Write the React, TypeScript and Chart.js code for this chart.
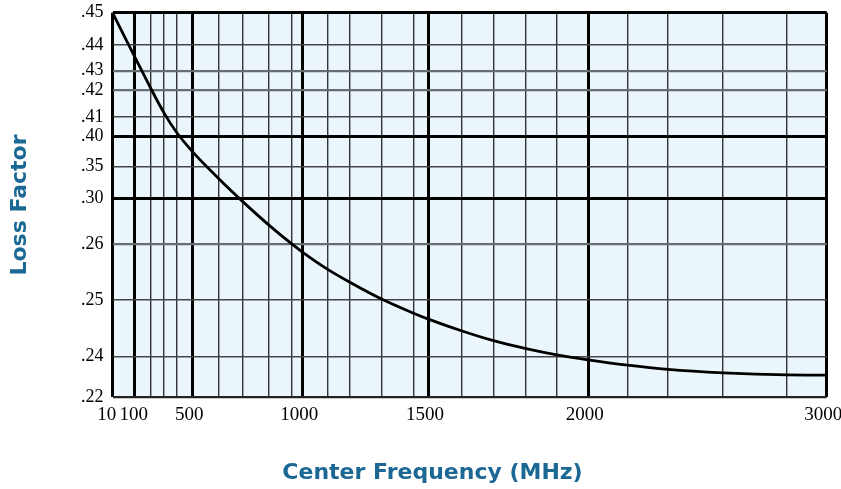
import React, { useEffect, useRef } from 'react';
import { Chart, registerables, LinearScale } from 'chart.js';

Chart.register(...registerables);

// ---- Curve data ----
const frequencyMHz = [10, 100, 200, 300, 400, 500, 600, 700, 800, 900, 1000, 1100, 1200, 1300, 1400, 1500, 1600, 1700, 1800, 1900, 2000, 2200, 2400, 2600, 2800, 3000];
const lossFactor = [0.45, 0.4352, 0.4209, 0.4116, 0.4021, 0.3745, 0.3304, 0.297, 0.2769, 0.26, 0.2585, 0.2555, 0.2532, 0.2501, 0.2476, 0.2466, 0.2445, 0.2428, 0.2414, 0.2403, 0.2384, 0.2358, 0.2337, 0.232, 0.231, 0.2309];

// ---- Axis definitions (the original axes are hand-spaced, non-linear) ----
const yTickValues = [0.22, 0.24, 0.25, 0.26, 0.30, 0.35, 0.40, 0.41, 0.42, 0.43, 0.44, 0.45];
const yTickFractions = [0, 0.106, 0.2534, 0.3989, 0.5177, 0.5998, 0.6778, 0.7282, 0.7991, 0.8493, 0.9161, 1];
const xTickValues = [10, 100, 200, 300, 400, 500, 600, 700, 800, 900, 1000, 1100, 1200, 1300, 1400, 1500, 1600, 1700, 1800, 1900, 2000, 2200, 2400, 2600, 2800, 3000];
const xTickFractions = [0, 0.0315, 0.0535, 0.0721, 0.0899, 0.1123, 0.1492, 0.1824, 0.2182, 0.251, 0.2664, 0.3008, 0.3317, 0.3775, 0.4223, 0.4423, 0.4895, 0.5333, 0.5791, 0.6221, 0.666, 0.721, 0.7776, 0.8546, 0.9443, 1];
const xTickLabels: Record<number, string> = { 10: '10 ', 100: ' 100', 500: '500', 1000: '1000', 1500: '1500', 2000: '2000', 3000: '3000' };
const xMajorLines = [10, 100, 500, 1000, 1500, 2000, 3000];
const yMajorLines = [0.45, 0.40, 0.30];
const yGrayLines = [0.43, 0.42, 0.26];

const X_TITLE = 'Center Frequency (MHz)';
const Y_TITLE = 'Loss Factor';
const TITLE_COLOR = '#1b6895';

function interp(v: number, from: number[], to: number[]): number {
  const n = from.length;
  let i = 0;
  if (v <= from[0]) i = 0;
  else if (v >= from[n - 1]) i = n - 2;
  else {
    while (i < n - 2 && v > from[i + 1]) i++;
  }
  const t = (v - from[i]) / (from[i + 1] - from[i]);
  return to[i] + t * (to[i + 1] - to[i]);
}

function makeBreakScale(scaleId: string, values: number[], fractions: number[]) {
  class BreakScale extends (LinearScale as any) {
    static id = scaleId;
    static defaults = {};
    determineDataLimits() {
      this.min = values[0];
      this.max = values[values.length - 1];
    }
    buildTicks() {
      return values.map((value) => ({ value }));
    }
    getPixelForValue(value: number) {
      if (value === null || value === undefined || isNaN(value)) return NaN;
      return this.getPixelForDecimal(interp(value, values, fractions));
    }
    getValueForPixel(pixel: number) {
      return interp(this.getDecimalForPixel(pixel), fractions, values);
    }
  }
  return BreakScale;
}

const XBreakScale = makeBreakScale('xbreak', xTickValues, xTickFractions);
const YBreakScale = makeBreakScale('ybreak', yTickValues, yTickFractions);
Chart.register(XBreakScale as any, YBreakScale as any);

const near = (v: number, list: number[]) => list.some((w) => Math.abs(w - v) < 1e-6);

const plotBackground = {
  id: 'plotBackground',
  beforeDraw(chart: any) {
    const { ctx, chartArea: a } = chart;
    ctx.save();
    ctx.fillStyle = '#eaf6fc';
    ctx.fillRect(a.left, a.top, a.right - a.left, a.bottom - a.top);
    ctx.restore();
  },
};

export default function App() {
  const ref = useRef<HTMLCanvasElement>(null);
  useEffect(() => {
    const chart = new Chart(ref.current as HTMLCanvasElement, {
      type: 'line',
      data: {
        datasets: [
          {
            data: frequencyMHz.map((x, i) => ({ x, y: lossFactor[i] })),
            borderColor: '#000000',
            borderWidth: 2.8,
            pointRadius: 0,
            fill: false,
            cubicInterpolationMode: 'monotone',
          },
        ],
      },
      options: {
        responsive: false,
        animation: false,
        events: [],
        layout: { padding: { left: 38.3, right: 14.3, top: 12.7, bottom: 0 } },
        plugins: {
          legend: { display: false },
          tooltip: { enabled: false },
          title: {
            display: true,
            text: X_TITLE,
            position: 'bottom',
            color: TITLE_COLOR,
            font: { family: "'DejaVu Sans', sans-serif", weight: 'bold', size: 22 },
            padding: { top: 0, bottom: 2.8 },
          },
        },
        scales: {
          x: {
            type: 'xbreak' as any,
            position: 'bottom',
            border: { display: false },
            grid: {
              drawTicks: false,
              color: (c: any) => (c.tick && near(c.tick.value, xMajorLines) ? '#000000' : '#333333'),
              lineWidth: (c: any) => (c.tick && near(c.tick.value, xMajorLines) ? 3 : 1.4),
            },
            ticks: {
              autoSkip: false,
              maxRotation: 0,
              minRotation: 0,
              padding: 6,
              labelOffset: -3.5,
              color: '#000000',
              font: { family: "'Liberation Serif', serif", size: 19 },
              callback: (v: any) => xTickLabels[Number(v)] ?? '',
            },
            afterFit: (s: any) => {
              s.height = 62.5;
              s.paddingLeft = 0;
              s.paddingRight = 0;
            },
          },
          y: {
            type: 'ybreak' as any,
            position: 'left',
            border: { display: false },
            grid: {
              drawTicks: false,
              color: (c: any) => {
                const v = c.tick ? c.tick.value : 0;
                if (near(v, yMajorLines)) return '#000000';
                if (near(v, yGrayLines)) return '#676e72';
                if (near(v, [0.22])) return '#222222';
                return '#444444';
              },
              lineWidth: (c: any) => {
                const v = c.tick ? c.tick.value : 0;
                if (near(v, yMajorLines)) return 3;
                if (near(v, yGrayLines)) return 2.2;
                if (near(v, [0.22])) return 2.2;
                return 1.5;
              },
            },
            ticks: {
              autoSkip: false,
              padding: 9,
              color: '#000000',
              font: { family: "'Liberation Serif', serif", size: 18 },
              callback: (v: any) => Number(v).toFixed(2).replace(/^0/, ''),
            },
            title: {
              display: true,
              text: Y_TITLE,
              color: TITLE_COLOR,
              font: { family: "'DejaVu Sans', sans-serif", weight: 'bold', size: 22 },
              padding: { top: -31.5, bottom: 0 },
            },
            afterFit: (s: any) => {
              s.width = 74.2;
              s.paddingTop = 0;
              s.paddingBottom = 0;
            },
          },
        },
      } as any,
      plugins: [plotBackground],
    });
    return () => chart.destroy();
  }, []);

  return (
    <div style={{ position: 'absolute', left: 0, top: 0, width: 841, height: 489, background: '#ffffff' }}>
      <canvas ref={ref} width={841} height={489} style={{ display: 'block' }} />
    </div>
  );
}
